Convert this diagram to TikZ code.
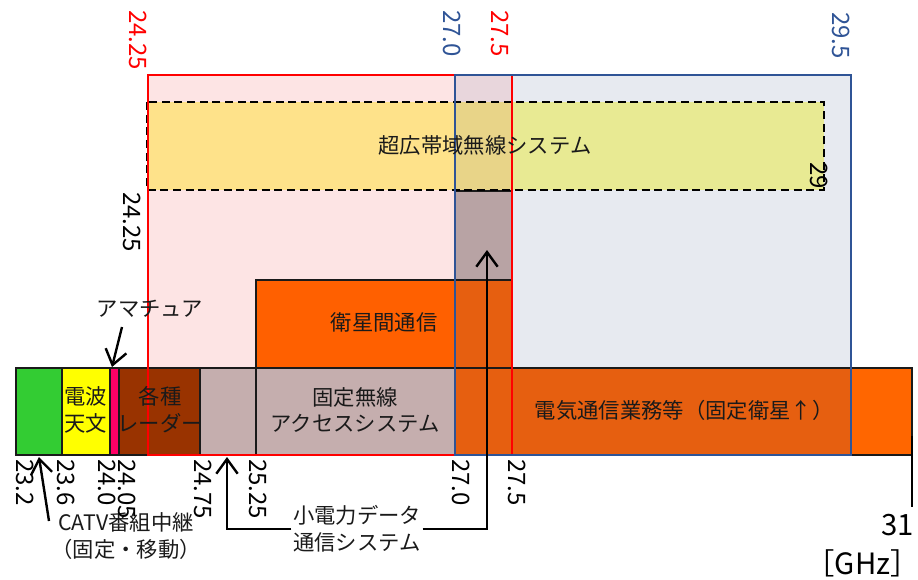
\documentclass[tikz,border=0pt]{standalone}
\usepackage{fontspec}
\setmainfont{DejaVu Sans}
\newfontfamily\jp{Noto Sans CJK JP}
\usetikzlibrary{arrows.meta}
\definecolor{redfill}{HTML}{FDE4E4}
\definecolor{bluefill}{HTML}{E7EAF0}
\definecolor{overfill}{HTML}{E8D6DC}
\definecolor{dashA}{HTML}{FEE28A}
\definecolor{dashB}{HTML}{E8D488}
\definecolor{dashC}{HTML}{E8EA93}
\definecolor{mauveA}{HTML}{B8A3A4}
\definecolor{mauveB}{HTML}{C5AEAE}
\definecolor{orA}{HTML}{FF6000}
\definecolor{orB}{HTML}{E65F10}
\definecolor{orC}{HTML}{FF6600}
\definecolor{grn}{HTML}{33CC33}
\definecolor{yel}{HTML}{FFFF00}
\definecolor{pnk}{HTML}{FF0066}
\definecolor{brn}{HTML}{993300}
\definecolor{bluel}{HTML}{2F5496}
\definecolor{redl}{HTML}{FF0000}
\definecolor{dk}{HTML}{1A1A1A}
\begin{document}
\begin{tikzpicture}[x=0.75pt,y=-0.75pt,
  seg/.style={draw=dk,line width=1.7pt},
  num/.style={font=\jp\fontsize{18}{18}\selectfont,inner sep=0pt,rotate=-90,anchor=west},
  jptext/.style={font=\jp\fontsize{16}{20}\selectfont,align=center,inner sep=1pt,text=dk},
  arr/.style={-{Straight Barb[length=11pt,width=16pt]},line width=1.8pt,draw=black}]
\useasboundingbox (0,0) rectangle (918,579);
% background boxes
\fill[redfill] (148,75) rectangle (512,455);
\fill[bluefill] (455,75) rectangle (851,455);
\fill[overfill] (455,75) rectangle (512,455);
% UWB dashed band fills
\fill[dashA] (147,102) rectangle (455,190);
\fill[dashB] (455,102) rectangle (512,190);
\fill[dashC] (512,102) rectangle (824,190);
% small upper mauve box
\fill[mauveA] (455,191) rectangle (512,280);
\draw[seg] (455,191) rectangle (512,280);
% inter-satellite box
\fill[orA] (256,280) rectangle (455,368);
\fill[orB] (455,280) rectangle (512,368);
\draw[seg] (256,280) rectangle (512,368);
% main bar
\fill[grn] (16,368) rectangle (62,455);
\fill[yel] (62,368) rectangle (110,455);
\fill[pnk] (110,368) rectangle (119,455);
\fill[brn] (119,368) rectangle (200,455);
\fill[mauveB] (200,368) rectangle (455,455);
\fill[orB] (455,368) rectangle (851,455);
\fill[orC] (851,368) rectangle (912,455);
\draw[seg] (16,368) rectangle (912,455);
\foreach \xx in {62,110,119,200,256,455,512} {\draw[seg] (\xx,368) -- (\xx,455);}
% dashed band outline
\draw[line width=1.6pt,dash pattern=on 6pt off 3.5pt] (147,102) rectangle (824,190);
% red and blue outlines
\draw[redl,line width=2pt] (148,75) rectangle (512,455);
\draw[bluel,line width=2pt] (455,75) rectangle (851,455);
% texts
\node[jptext] (uwb) at (485,145) {超広帯域無線システム};
\node[jptext] (isl) at (384,322) {衛星間通信};
\node[jptext] (ra) at (86,410) {電波\\天文};
\node[jptext] (rad) at (160,410) {各種\\レーダー};
\node[jptext] (fwa) at (355,410) {固定無線\\アクセスシステム};
\node[jptext] (tele) at (684,410) {電気通信業務等（固定衛星↑）};
\node[jptext] (ama) at (150,309) {アマチュア};
\node[jptext] (catv) at (126,536) {CATV番組中継\\（固定・移動）};
\node[jptext] (sd) at (357,529) {小電力データ\\通信システム};
% frequency labels
\node[num,text=redl] (t1) at (138,10) {24.25};
\node[num,text=bluel] (t2) at (452,10) {27.0};
\node[num,text=redl] (t3) at (500,10) {27.5};
\node[num,text=bluel] (t4) at (841,12) {29.5};
\node[num] (l1) at (132,192) {24.25};
\node[num] (l2) at (819,162) {29};
\node[num] (b1) at (25,459) {23.2};
\node[num] (b2) at (66,459) {23.6};
\node[num] (b3) at (107,459) {24.0};
\node[num] (b4) at (127,459) {24.05};
\node[num] (b5) at (203,459) {24.75};
\node[num] (b6) at (258,459) {25.25};
\node[num] (b7) at (461,459) {27.0};
\node[num] (b8) at (517,459) {27.5};
\node[anchor=east,inner sep=0pt,font=\jp\fontsize{22}{22}\selectfont] (n31) at (914,525) {31};
\node[anchor=east,inner sep=0pt,font=\jp\fontsize{22}{22}\selectfont] (ghz) at (920,563) {［GHz］};
% connectors
\coordinate (amaS) at (122,327);
\coordinate (amaT) at (112,367);
\draw[arr] (amaS) -- (amaT);
\coordinate (catvS) at (49,521);
\coordinate (catvT) at (39,457);
\draw[arr] (catvS) -- (catvT);
\coordinate (sdA) at (227,457);
\coordinate (sdB) at (487,250);
\draw[arr] (sd.west) -| (sdA);
\draw[arr] (sd.east) -| (sdB);
\coordinate (tickT) at (912,436);
\coordinate (tickB) at (912,507);
\draw[line width=1.5pt] (tickT) -- (tickB);
\end{tikzpicture}
\end{document}
